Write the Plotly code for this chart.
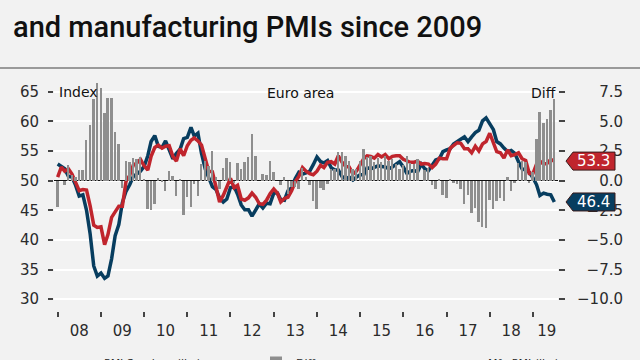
import plotly.graph_objects as go
import pandas as pd

# ---------------- data ----------------
months = pd.date_range("2008-01-01", "2019-07-01", freq="MS")

services = [
    50.6, 52.3, 51.6, 52.0, 51.1, 49.5, 48.3, 48.5, 48.4, 45.8, 42.5, 42.1,  # 2008
    42.2, 39.2, 40.9, 43.8, 44.8, 45.7, 45.7, 49.9, 50.9, 52.6, 53.0, 53.6,  # 2009
    52.5, 51.8, 54.1, 55.6, 56.0, 55.5, 55.8, 55.9, 54.1, 53.3, 55.4, 54.2,  # 2010
    55.9, 56.8, 57.2, 56.7, 56.0, 53.7, 51.6, 51.5, 48.8, 46.4, 47.5, 48.8,  # 2011
    50.4, 48.8, 49.2, 46.9, 46.7, 47.1, 47.9, 47.2, 46.1, 46.0, 46.7, 47.8,  # 2012
    48.6, 47.9, 46.4, 47.0, 47.2, 48.3, 49.8, 50.7, 52.2, 51.6, 51.2, 51.0,  # 2013
    51.6, 52.6, 52.2, 53.1, 53.2, 52.8, 54.2, 53.1, 52.4, 52.3, 51.1, 51.6,  # 2014
    52.7, 53.7, 54.2, 54.1, 53.8, 54.4, 54.0, 54.4, 53.7, 54.1, 54.2, 54.2,  # 2015
    53.6, 53.3, 53.1, 53.1, 53.3, 52.8, 52.9, 52.8, 52.2, 52.8, 53.8, 53.7,  # 2016
    53.7, 55.5, 56.0, 56.4, 56.3, 55.4, 55.4, 54.7, 55.8, 55.0, 56.2, 56.6,  # 2017
    58.0, 56.2, 54.9, 54.7, 53.8, 55.2, 54.2, 54.4, 54.7, 53.7, 53.4, 51.2,  # 2018
    51.2, 52.8, 53.3, 52.8, 52.9, 53.6, 53.3,                                # 2019
]

manufacturing = [
    52.8, 52.3, 52.0, 50.7, 50.6, 49.2, 47.4, 47.6, 45.0, 41.1, 35.6, 33.9,  # 2008
    34.4, 33.5, 33.9, 36.8, 40.7, 42.6, 46.3, 48.2, 49.3, 50.7, 51.2, 51.6,  # 2009
    52.4, 54.2, 56.6, 57.6, 55.8, 55.6, 56.7, 55.1, 53.7, 54.6, 55.3, 57.1,  # 2010
    57.3, 59.0, 57.5, 58.0, 54.6, 52.0, 50.4, 49.0, 48.5, 47.1, 46.4, 46.9,  # 2011
    48.8, 49.0, 47.7, 45.9, 45.1, 45.1, 44.0, 45.1, 46.1, 45.4, 46.2, 46.1,  # 2012
    47.9, 47.9, 46.8, 46.7, 48.3, 48.8, 50.3, 51.4, 51.1, 51.3, 51.6, 52.7,  # 2013
    54.0, 53.2, 53.0, 53.4, 52.2, 51.8, 51.8, 50.7, 50.3, 50.6, 50.1, 50.6,  # 2014
    51.0, 51.0, 52.2, 52.0, 52.2, 52.5, 52.4, 52.3, 52.0, 52.3, 52.8, 53.2,  # 2015
    52.3, 51.2, 51.6, 51.7, 51.5, 52.8, 52.0, 51.7, 52.6, 53.5, 53.7, 54.9,  # 2016
    55.2, 55.4, 56.2, 56.7, 57.0, 57.4, 56.6, 57.4, 58.1, 58.5, 60.1, 60.6,  # 2017
    59.6, 58.6, 56.6, 56.2, 55.5, 54.9, 55.1, 54.6, 53.2, 52.0, 51.8, 51.4,  # 2018
    50.5, 49.3, 47.5, 47.9, 47.7, 47.6, 46.4,                                # 2019
]

diff = [round(s - m, 1) for s, m in zip(services, manufacturing)]

year_labels = ["08", "09", "10", "11", "12", "13", "14", "15", "16", "17", "18", "19"]
label_dates = ["2008-07-01", "2009-07-01", "2010-07-01", "2011-07-01", "2012-07-01",
               "2013-07-01", "2014-07-01", "2015-07-01", "2016-07-01", "2017-07-01",
               "2018-07-01", "2019-04-28"]
year_starts = [f"{y}-01-01" for y in range(2008, 2020)]

left_ticks = [30, 35, 40, 45, 50, 55, 60, 65]
right_ticks = [-10, -7.5, -5, -2.5, 0, 2.5, 5, 7.5]

# ---------------- layout helpers ----------------
W, H = 640, 360
ML, MR, MT, MB = 54, 14, 74, 49
PW, PH = W - ML - MR, H - MT - MB
Y_RANGE = [28, 68]
UNIT_PX = PH / (Y_RANGE[1] - Y_RANGE[0])


def px_x(px):
    return (px - ML) / PW


def px_y(py):
    return (H - MB - py) / PH


RED = "#c0252d"
BLUE = "#073d5f"
GREY_BAR = "#8e8e8e"
BG = "#f2f2f2"
TXT = "#2b2b2b"
FONT = "DejaVu Sans"

fig = go.Figure()

fig.add_trace(go.Bar(
    x=months, y=diff, yaxis="y2", name="Diff", legendrank=2,
    marker=dict(color=GREY_BAR, line=dict(width=0)),
    width=16 * 24 * 3600 * 1000,
))
fig.add_trace(go.Scatter(
    x=months, y=manufacturing, mode="lines", name="Mfg PMI (lhs)", legendrank=3,
    line=dict(color=BLUE, width=3.5),
))
fig.add_trace(go.Scatter(
    x=months, y=services, mode="lines", name="PMI Services (lhs)", legendrank=1,
    line=dict(color=RED, width=3.5),
))

x_end = px_x(558)

fig.update_layout(
    width=W, height=H,
    margin=dict(l=ML, r=MR, t=MT, b=MB, autoexpand=False),
    paper_bgcolor=BG, plot_bgcolor=BG,
    font=dict(family=FONT, color=TXT, size=15),
    showlegend=True,
    legend=dict(orientation="h", x=px_x(64), y=px_y(348), xanchor="left", yanchor="top",
                font=dict(size=11, color=TXT), bgcolor="rgba(0,0,0,0)",
                entrywidth=147),
    bargap=0,
    xaxis=dict(
        domain=[0, x_end],
        type="date",
        range=["2007-12-01", "2019-08-01"],
        tickmode="array", tickvals=label_dates, ticktext=year_labels,
        ticks="outside", ticklen=6, tickcolor="rgba(0,0,0,0)",
        tickfont=dict(size=15, color=TXT),
        showgrid=False, zeroline=False, showline=False,
        minor=dict(tickmode="array", tickvals=year_starts, ticks="outside",
                   ticklen=5, tickwidth=1.5, tickcolor="#444", showgrid=False),
    ),
    yaxis=dict(
        range=Y_RANGE, tickmode="array", tickvals=left_ticks,
        ticks="outside", ticklen=5, tickwidth=1.5, tickcolor="#444",
        ticklabelstandoff=6,
        showgrid=True, gridcolor="white", gridwidth=2,
        zeroline=False, showline=False,
        tickfont=dict(size=15, color=TXT),
    ),
    yaxis2=dict(
        range=[(Y_RANGE[0] - 50) / 2, (Y_RANGE[1] - 50) / 2],
        overlaying="y", side="right", anchor="x",
        tickmode="array", tickvals=right_ticks,
        ticks="outside", ticklen=6, tickwidth=1.5, tickcolor="#444",
        showticklabels=False, showgrid=False,
        zeroline=True, zerolinecolor="#111", zerolinewidth=1.2,
        showline=False,
    ),
    yaxis3=dict(
        range=[(Y_RANGE[0] - 50) / 2, (Y_RANGE[1] - 50) / 2],
        overlaying="y", side="right", anchor="free", position=px_x(626),
        tickmode="array", tickvals=right_ticks, tickformat=".1f",
        ticks="", ticklabelposition="inside",
        showgrid=False, zeroline=False, showline=False,
        tickfont=dict(size=15, color=TXT),
    ),
)

# dummy trace to activate yaxis3
fig.add_trace(go.Scatter(x=[months[0]], y=[0], yaxis="y3", mode="markers",
                         marker=dict(opacity=0), showlegend=False, hoverinfo="skip"))

# separator line under title
fig.add_shape(type="line", xref="paper", yref="paper",
              x0=px_x(0), x1=px_x(640), y0=px_y(68), y1=px_y(68),
              line=dict(color="#9a9a9a", width=2))

# value boxes at the right
half_h = 9 / UNIT_PX
tip, body, right = px_x(566), px_x(573), px_x(615)
for val, col in [(services[-1], RED), (manufacturing[-1], BLUE)]:
    path = (f"M {tip},{val} L {body},{val + half_h} L {right},{val + half_h} "
            f"L {right},{val - half_h} L {body},{val - half_h} Z")
    fig.add_shape(type="path", path=path, xref="paper", yref="y",
                  fillcolor=col, line=dict(color="#3a1a1a", width=1), layer="above")
    fig.add_annotation(x=(body + right) / 2, y=val, xref="paper", yref="y",
                       text=f"{val:.1f}", showarrow=False,
                       font=dict(size=15, color="white", family=FONT),
                       xanchor="center", yanchor="middle")

# in-chart labels
fig.add_annotation(x=px_x(57), y=px_y(92), xref="paper", yref="paper", text="Index",
                   showarrow=False, xanchor="left", yanchor="middle",
                   font=dict(size=14, color="#111"))
fig.add_annotation(x=px_x(300), y=px_y(93), xref="paper", yref="paper", text="Euro area",
                   showarrow=False, xanchor="center", yanchor="middle",
                   font=dict(size=14, color="#111"))
fig.add_annotation(x=px_x(558), y=px_y(93), xref="paper", yref="paper", text="Diff",
                   showarrow=False, xanchor="right", yanchor="middle",
                   font=dict(size=14, color="#111"))

# title
fig.add_annotation(x=px_x(11), y=px_y(27), xref="paper", yref="paper",
                   text="and manufacturing PMIs since 2009",
                   showarrow=False, xanchor="left", yanchor="middle",
                   font=dict(size=29, color="#111", family="Roboto", weight=500))

fig.write_html("out.html", config={"displayModeBar": False},
               post_script="document.body.style.margin='0';")
